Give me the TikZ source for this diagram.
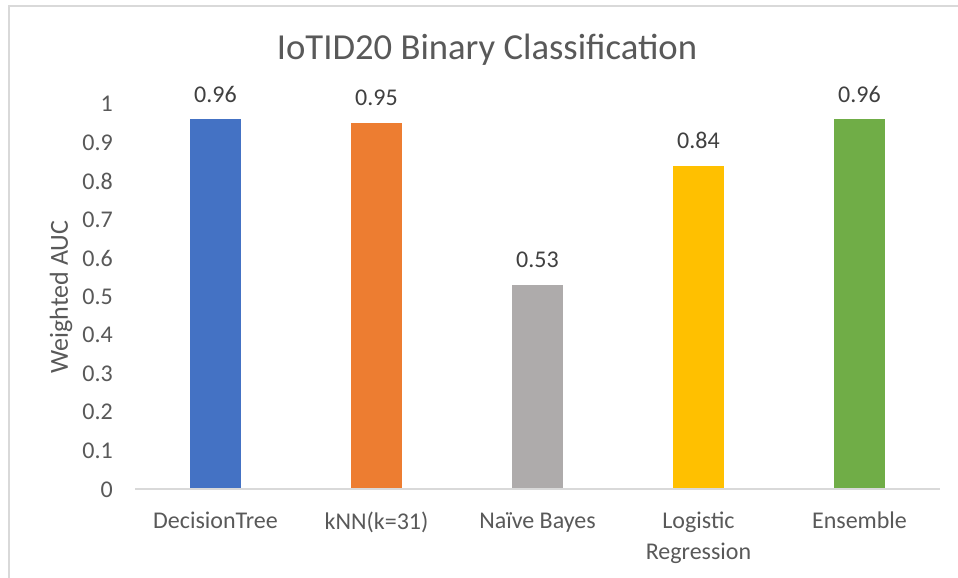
\documentclass[tikz,border=0pt]{standalone}
\usepackage{fontspec}
\setmainfont{Carlito}
\definecolor{cblue}{HTML}{4472C4}
\definecolor{corange}{HTML}{ED7D31}
\definecolor{cgray}{HTML}{AEABAB}
\definecolor{cyellow}{HTML}{FFC000}
\definecolor{cgreen}{HTML}{70AD47}
\definecolor{txt}{HTML}{595959}
\definecolor{lbl}{HTML}{404040}
\definecolor{frame}{HTML}{D9D9D9}
\tikzset{
  bar/.style={draw=none,inner sep=0pt},
  ticklbl/.style={font=\fontsize{18}{22}\selectfont,text=txt,anchor=east,inner sep=0pt},
  catlbl/.style={font=\fontsize{18}{22}\selectfont,text=txt,align=center,inner sep=0pt,anchor=north},
  vallbl/.style={font=\fontsize{18}{22}\selectfont,text=lbl,inner sep=0pt},
}
\begin{document}
\begin{tikzpicture}[x=0.75pt,y=-0.75pt]
\useasboundingbox (0,0) rectangle (958,578);
\fill[white] (0,0) rectangle (958,578);
% chart frame (left and top visible)
\draw[frame,line width=1.5] (8.5,578) -- (8.5,5.5) -- (958,5.5);
% title
\node[font=\fontsize{27.5}{32}\selectfont,text=txt] (title) at (487,50) {IoTID20 Binary Classification};
% y axis label
\node[font=\fontsize{19.5}{23}\selectfont,text=txt,rotate=90] (ylab) at (61,297) {Weighted AUC};
% y tick labels
\foreach \v/\t in {0/0,1/0.1,2/0.2,3/0.3,4/0.4,5/0.5,6/0.6,7/0.7,8/0.8,9/0.9,10/1}{
  \node[ticklbl] (yt\v) at (113,{489.3-38.54*\v}) {\t};
}
% bars
\foreach \i/\c/\val/\col in {0/215.5/0.96/cblue,1/376.5/0.95/corange,2/537.5/0.53/cgray,3/698.5/0.84/cyellow,4/859.5/0.96/cgreen}{
  \fill[\col] (\c-25.5,489.3) rectangle (\c+25.5,{489.3-385.4*\val});
  \node[vallbl] (v\i) at (\c,{489.3-385.4*\val-25}) {\val};
}
% axis line
\draw[frame,line width=1.5] (135,489.3) coordinate (ax0) -- (940,489.3) coordinate (ax1);
% category labels
\node[catlbl] (c0) at (215.5,512) {DecisionTree};
\node[catlbl] (c1) at (376.5,512) {kNN(k=31)};
\node[catlbl] (c2) at (537.5,512) {Naïve Bayes};
\node[catlbl] (c3) at (698.5,512) {Logistic\\[1pt]Regression};
\node[catlbl] (c4) at (859.5,512) {Ensemble};
\end{tikzpicture}
\end{document}
